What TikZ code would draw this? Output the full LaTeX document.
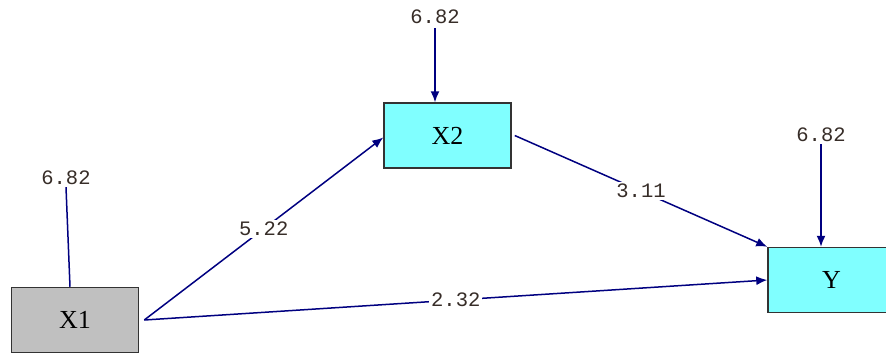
\documentclass[tikz,border=0pt]{standalone}
\usepackage{fontspec}
\setmainfont{Liberation Serif}
\newfontfamily\numfont{Liberation Mono}
\usepackage{xcolor}
\usepackage{tikz}
\usetikzlibrary{arrows.meta}
\definecolor{pathblue}{RGB}{0,0,128}
\definecolor{boxcyan}{RGB}{128,255,255}
\definecolor{boxgray}{RGB}{192,192,192}
\definecolor{numcol}{RGB}{55,45,40}

\tikzset{
  var/.style={draw=black!80,line width=1.5pt,minimum width=127pt,minimum height=65pt,inner sep=0pt,font=\fontsize{26}{26}\selectfont},
  num/.style={text=numcol,font=\numfont\fontsize{20.5}{20.5}\selectfont,inner sep=2pt},
  effect/.style={pathblue,line width=1.5pt,-{Latex[length=11pt,width=9pt]}},
  errline/.style={pathblue,line width=1.5pt}
}

\begin{document}
\begin{tikzpicture}[x=1pt,y=-1pt]
		\useasboundingbox (0,0) rectangle (886,354);
		\node[var,fill=boxgray] (x1) at (75,320) {X1};
		\node[var,fill=boxcyan] (x2) at (447.5,135.5) {X2};
		\node[var,fill=boxcyan] (y) at (831.5,280) {Y};
		
		\node[num] (e1) at (66,178) {6.82};
		\node[num] (e2) at (435,17) {6.82};
		\node[num] (e3) at (821,135) {6.82};
		
		\draw[errline] (e1.south) -- ([xshift=4pt]e1.south |- x1.north);
		\draw[effect] ([yshift=-2pt]e2.south) -- (e2.south |- x2.north);
		\draw[effect] (e3.south) -- (e3.south |- y.north);
		
		\draw[effect] ([xshift=5pt]x1.east) -- node[num,fill=white] {5.22} ([yshift=-2pt]x2.west);
		\draw[effect] ([xshift=3pt]x2.east) -- node[num,fill=white] {3.11} (y.north west);
		\draw[effect] ([xshift=5pt]x1.east) -- node[num,fill=white] {2.32} (y.west);
	\end{tikzpicture}
\end{document}
